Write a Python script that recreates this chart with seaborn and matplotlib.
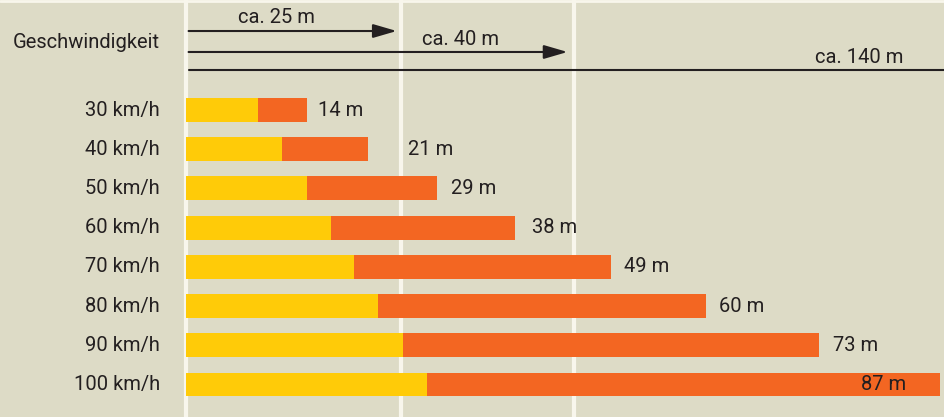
import matplotlib
matplotlib.use("Agg")
import matplotlib.pyplot as plt
import seaborn as sns
import pandas as pd

# data
speeds = ["30 km/h", "40 km/h", "50 km/h", "60 km/h", "70 km/h", "80 km/h", "90 km/h", "100 km/h"]
reaction = [8.3, 11.1, 13.9, 16.7, 19.4, 22.2, 25.0, 27.8]
total = [14, 21, 29, 38, 49, 60, 73, 87]
total_labels = ["14 m", "21 m", "29 m", "38 m", "49 m", "60 m", "73 m", "87 m"]
header_labels = ["ca. 25 m", "ca. 40 m", "ca. 140 m"]
header_ends = [24.3, 44.0, 87.6]
gridlines = [0, 24.8, 44.75]
title = "Geschwindigkeit"

df = pd.DataFrame({"speed": speeds, "reaction": reaction, "total": total})

BG = "#dddbc6"
YEL = "#ffcb08"
ORA = "#f36622"
TXT = "#231f20"
FONT = "Roboto"

sns.set_theme(style="white")
plt.rcParams["font.family"] = [FONT, "DejaVu Sans"]

fig = plt.figure(figsize=(9.45, 4.17), dpi=100)
fig.patch.set_facecolor(BG)
ax = fig.add_axes([0, 0, 1, 1])
ax.set_facecolor(BG)

for g in gridlines:
    ax.axvline(g, color="#f8f6ec", lw=3, zorder=0)
ax.axhline(-2.79, color="#f8f6ec", lw=2, zorder=0)

sns.barplot(data=df, x="total", y="speed", color=ORA, width=0.61, ax=ax,
            saturation=1, orient="h", linewidth=0, edgecolor="none", zorder=2)
sns.barplot(data=df, x="reaction", y="speed", color=YEL, width=0.61, ax=ax,
            saturation=1, orient="h", linewidth=0, edgecolor="none", zorder=3)

ax.set_xlim(-21.45, 87.54)
ax.set_ylim(7.83, -2.806)
ax.axis("off")

fs = 14.5
label_offsets = [1.25, 4.6, 1.6, 1.9, 1.5, 1.5, 1.6, -4.0]
for i, (t, lab) in enumerate(zip(total, total_labels)):
    off = label_offsets[i]
    ha = "left" if off > 0 else "right"
    ax.text(t + off, i, lab, ha=ha, va="center", fontsize=fs, color=TXT, zorder=5)
    ax.text(-3.0, i, speeds[i], ha="right", va="center", fontsize=fs, color=TXT)

ax.text(-3.0, -1.73, title, ha="right", va="center", fontsize=fs, color=TXT)

# header arrows
ys = [-2.015, -1.48, -1.02]
ty = [-2.36, -1.80, -1.34]
tx = [10.4, 31.7, 77.6]
for k in range(3):
    if k < 2:
        ax.annotate("", xy=(header_ends[k], ys[k]), xytext=(0.3, ys[k]),
                    arrowprops=dict(arrowstyle="-|>,head_length=1.2,head_width=0.35",
                                    color=TXT, lw=1.5, shrinkA=0, shrinkB=0))
    else:
        ax.plot([0.3, header_ends[k]], [ys[k], ys[k]], color=TXT, lw=1.5)
    ax.text(tx[k], ty[k], header_labels[k], ha="center", va="center",
            fontsize=fs, color=TXT)

fig.savefig("out.png", dpi=100, facecolor=BG)
